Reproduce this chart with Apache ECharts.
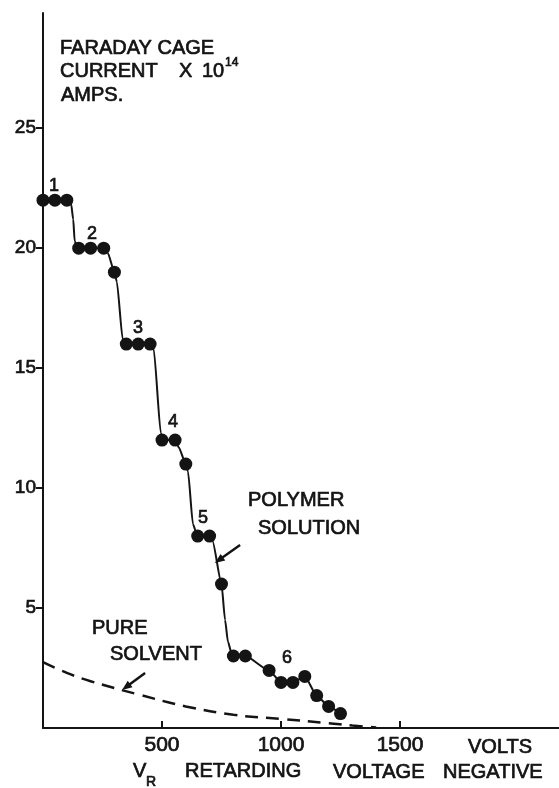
<!DOCTYPE html>
<html><head><meta charset="utf-8">
<script src="https://cdn.jsdelivr.net/npm/echarts@6/dist/echarts.min.js"></script>
<style>html,body{margin:0;padding:0;background:#fff}#c{width:559px;height:788px}</style>
</head><body><div id="c"></div>
<script>
// measured data points (polymer solution), [volts, current x 1e14 A]
const polymerPoints = [[0,22],[50,22],[100,22],[150,20],[200,20],[255,20],[300,19],[350,16],[400,16],[450,16],[500,12],[555,12],[600,11],[650,8],[700,8],[750,6],[800,3],[850,3],[950,2.4],[1000,1.9],[1050,1.9],[1100,2.15],[1150,1.35],[1200,0.9],[1250,0.6]];
// path of the drawn polymer curve
const polymerCurve = [[0,22],[100,22],[118,21.85],[127,21.2],[133,20.3],[145,20],[255,20],[272,19.8],[300,19],[310,18.6],[335,16.2],[348,16],[450,16],[465,15.8],[495,12.3],[502,12],[555,12],[570,11.7],[600,11],[609,10.7],[630,8.5],[648,8],[700,8],[712,7.8],[750,6],[765,4.5],[777,3.6],[795,3],[850,3],[950,2.4],[1000,1.9],[1050,1.9],[1100,2.15],[1150,1.35],[1200,0.9],[1250,0.6]];
// pure solvent dashed curve
const solventCurve = [[0,2.75],[100,2.3],[200,1.95],[400,1.4],[600,0.9],[800,0.55],[1000,0.38],[1200,0.2],[1300,0.1],[1400,0.02]];
const stepLabels = ['1','2','3','4','5','6'];
const stepLabelPos = [[46,22.6],[206,20.6],[399,16.65],[546,12.75],[672,8.75],[1025,2.9]];
const polymerArrow = [[828,7.63],[739,7.0]];
const solventArrow = [[429,2.29],[349,1.71]];
const xTicks = [500,1000,1500];
const yTicks = [5,10,15,20,25];
const xMax = 2168, yMax = 29.8;

const INK = '#141414';
const FF = 'Liberation Sans';
const chart = echarts.init(document.getElementById('c'), null, {renderer:'canvas'});

function txt(t, x, y, size) {
  return {type:'text', x:x, y:y, silent:true,
    style:{text:t, fontSize:size||20, fontFamily:FF, fill:INK, stroke:INK, lineWidth:0.7,
      verticalAlign:'middle', align:'left'}};
}

chart.setOption({
  animation:false,
  backgroundColor:'#fff',
  grid:{left:43, right:0, top:13, bottom:60, containLabel:false},
  xAxis:{type:'value', min:0, max:xMax,
    axisLine:{lineStyle:{color:INK, width:2}},
    axisTick:{show:true, inside:true, length:7, customValues:xTicks, lineStyle:{color:INK, width:2}},
    axisLabel:{customValues:xTicks, margin:7, fontSize:21, fontFamily:FF, color:INK,
      textBorderColor:INK, textBorderWidth:0.7, formatter:v=>String(v)},
    splitLine:{show:false}},
  yAxis:{type:'value', min:0, max:yMax,
    axisLine:{show:true, lineStyle:{color:INK, width:2}},
    axisTick:{show:true, inside:false, length:7, customValues:yTicks, lineStyle:{color:INK, width:2}},
    axisLabel:{customValues:yTicks, margin:7, fontSize:19, fontFamily:FF, color:INK,
      textBorderColor:INK, textBorderWidth:0.7, formatter:v=>String(v)},
    splitLine:{show:false}},
  series:[
    {type:'line', data:solventCurve, symbol:'none', smooth:0.4, silent:true,
      lineStyle:{color:INK, width:2.5, type:[13,8]},
      markLine:{silent:true, symbol:['none','triangle'], symbolSize:[8,10], label:{show:false},
        lineStyle:{color:INK, width:2.5, type:'solid'},
        data:[[{coord:solventArrow[0]},{coord:solventArrow[1]}]]}},
    {type:'line', data:polymerCurve, symbol:'none', smooth:0.2, smoothMonotone:'x', silent:true,
      lineStyle:{color:INK, width:2},
      markLine:{silent:true, symbol:['none','triangle'], symbolSize:[8,10], label:{show:false},
        lineStyle:{color:INK, width:2.5, type:'solid'},
        data:[[{coord:polymerArrow[0]},{coord:polymerArrow[1]}]]}},
    {type:'scatter', data:polymerPoints, symbol:'circle', symbolSize:13, silent:true,
      itemStyle:{color:INK, opacity:1, borderWidth:0}},
    {type:'scatter', data:stepLabelPos, symbolSize:1, silent:true,
      itemStyle:{color:'rgba(0,0,0,0)', opacity:1},
      label:{show:true, position:'inside', formatter:p=>stepLabels[p.dataIndex],
        fontSize:18, fontFamily:FF, color:INK, opacity:1,
        textBorderColor:INK, textBorderWidth:0.7}}
  ],
  graphic:[
    txt('FARADAY CAGE', 60, 48),
    txt('CURRENT', 60, 71),
    txt('X', 179, 71),
    txt('10', 202, 71),
    txt('14', 225, 63, 12),
    txt('AMPS.', 61, 95),
    txt('POLYMER', 248, 500),
    txt('SOLUTION', 258, 528),
    txt('PURE', 92, 628),
    txt('SOLVENT', 110, 654),
    txt('VOLTS', 468, 747),
    txt('V', 133, 771),
    txt('R', 146, 782, 14),
    txt('RETARDING', 185, 771),
    txt('VOLTAGE', 333, 772),
    txt('NEGATIVE', 443, 772)
  ]
});
</script></body></html>
